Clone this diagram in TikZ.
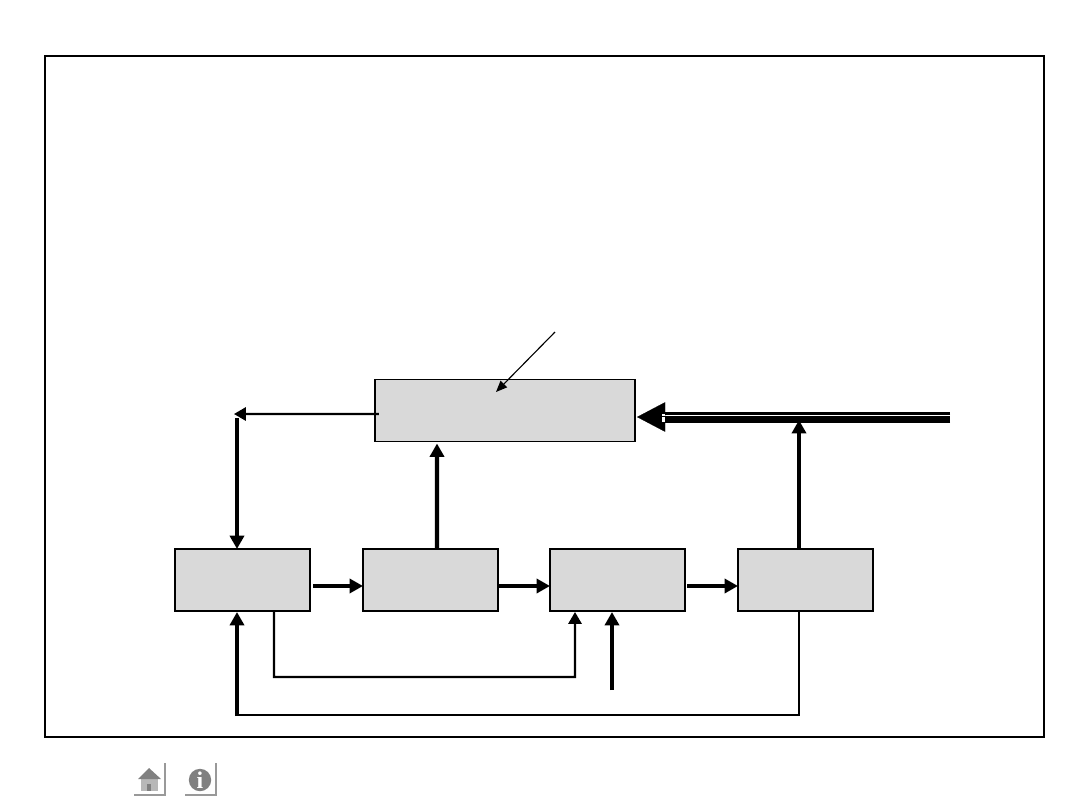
\documentclass[tikz,border=0pt]{standalone}
\usepackage{fontspec}
\setmainfont{Liberation Serif}
\usetikzlibrary{arrows.meta,calc}

\begin{document}
\begin{tikzpicture}[
  x=0.025cm, y=-0.025cm,
  block/.style={rectangle, draw, fill=black!15, line width=1.2pt, outer sep=0pt, minimum height=1.55cm},
  wide/.style={block, minimum width=6.5cm},
  small/.style={block, minimum width=3.375cm},
  heavy/.style={-{Triangle[length=9.5pt,width=10pt]}, line width=2.9pt},
  medium/.style={-{Triangle[length=9.5pt,width=10pt]}, line width=2.3pt},
  light/.style={-{Triangle[length=8.5pt,width=9.5pt]}, line width=1.5pt},
  fine/.style={-{Triangle[length=8pt,width=6.5pt]}, line width=0.8pt},
  icon/.style={draw=black!40, line width=1.1pt},
]
\useasboundingbox (0,0) rectangle (1080,810);

\node[draw, line width=1.2pt, outer sep=0pt, minimum width=24.975cm, minimum height=17.025cm] (frame) at (544.5,396.5) {};

% === blocks ===
\node[wide] (main) at (505,410.5) {};
\node[small] (b1) at (242.5,580) {};
\node[small] (b2) at (430.5,580) {};
\node[small] (b3) at (617.5,580) {};
\node[small] (b4) at (805.5,580) {};

% === free ends ===
\coordinate (note) at (555,332);
\coordinate (noteend) at (496,392);
\coordinate (split) at (234,414);
\coordinate (splitdown) at (237,418);
\coordinate (input) at (612,690);
\coordinate (lowcorner) at (237,715);
\coordinate (feedA) at (950,413.5);
\coordinate (feedB) at (950,419.5);
\coordinate (feedhead) at (665,417);

% === upper part ===
\draw[fine] (note) -- (noteend);
\draw[light] ($(main.west)+(4,3.5)$) -- (split);
\draw[heavy] (splitdown) -- ($(b1.north)+(-5.5,0)$);
\draw[heavy] ($(b2.north)+(6.5,0)$) -- ($(main.south)+(-68,2)$);
\draw[medium] ($(b4.north)+(-6.5,0)$) -- (799,420);

% === big input ===
\draw[line width=2.2pt] (feedA) -- (663,413.5);
\draw[line width=5pt] (feedB) -- (663,419.5);
\draw[line width=0.1pt, -{Triangle[length=20pt,width=21pt]}] (feedhead) -- ($(main.east)+(2,6.5)$);
\fill[white] (661.5,417) rectangle (665,422);
\fill[white] (661.5,414) rectangle (665,415.5);

% === row of blocks ===
\draw[medium] ($(b1.east)+(3,6)$) -- ($(b2.west)+(0,6)$);
\draw[medium] ($(b2.east)+(1,6)$) -- ($(b3.west)+(0,6)$);
\draw[medium] ($(b3.east)+(2,6)$) -- ($(b4.west)+(0,6)$);

% === lower feedback ===
\draw[light] ($(b1.south)+(31.5,0)$) -- (274,677) -- (575,677) -- ($(b3.south)+(-42.5,1)$);
\draw[heavy] (input) -- ($(b3.south)+(-5.5,1)$);
\draw[line width=1.7pt] ($(b4.south)+(-6.5,0)$) -- (799,715) -- (lowcorner);
\draw[heavy] ($(lowcorner)+(0,1)$) -- ($(b1.south)+(-5.5,1)$);

% === icons ===
\draw[icon] (134,795) -- (165,795) -- (165,763);
\draw[icon] (185,795) -- (216,795) -- (216,763);
\fill[black!28] (141,779) rectangle (158,791);
\fill[black!50] (147,784) rectangle (151,791);
\fill[black!50] (149,768) -- (161,779) -- (138,779) -- cycle;
\node[circle, fill=black!50, minimum size=0.56cm, inner sep=0pt, text=white, font=\bfseries\fontsize{17}{17}\selectfont] (info) at (200,780) {i};
\end{tikzpicture}
\end{document}
